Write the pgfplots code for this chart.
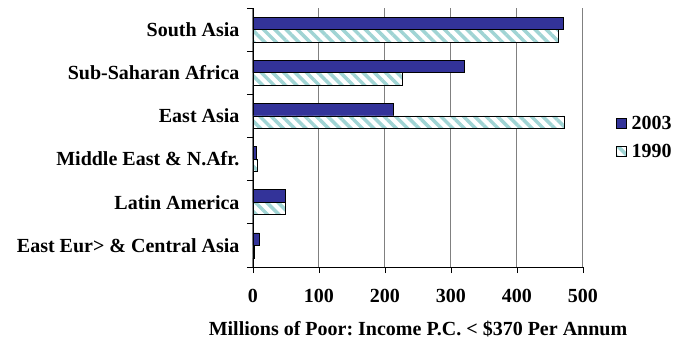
\documentclass[border=0pt]{standalone}
\usepackage{fontspec}
\setmainfont{Liberation Serif}
\usepackage{pgfplots}
\pgfplotsset{compat=1.18}
\usetikzlibrary{patterns.meta}
\definecolor{darkblue}{RGB}{51,51,153}
\definecolor{stripe}{RGB}{160,212,212}
\definecolor{gridgray}{RGB}{128,128,128}
\newcommand{\cf}{\fontsize{20}{23}\selectfont\bfseries}
\frenchspacing
\begin{document}
\begin{tikzpicture}[font=\cf]
\path[use as bounding box] (-253pt,-76pt) rectangle (432pt,267pt);
\begin{axis}[
  at={(0pt,0pt)}, anchor=south west,
  width=330pt, height=259pt, scale only axis,
  xmin=0, xmax=500, ymin=-0.5, ymax=5.5,
  axis x line*=bottom, axis y line*=left,
  axis line style={black, line width=0.8pt},
  xtick={0,100,...,500},
  ytick={0,...,5},
  yticklabels={East Eur> \& Central Asia, Latin America, Middle East \& N.Afr., East Asia, Sub-Saharan Africa, South Asia},
  minor ytick={-0.5,0.5,...,5.5},
  tick align=outside,
  major tick length=6pt, minor tick length=6pt,
  major y tick style={draw=none},
  tick style={black, line width=0.8pt},
  xmajorgrids, grid style={gridgray, line width=1pt},
  /pgf/number format/assume math mode=true,
  ticklabel style={font=\cf},
  xticklabel style={yshift=-13pt},
  yticklabel style={xshift=-4pt, align=right},
  xlabel={Millions of Poor: Income P.C. < \$370 Per Annum},
  xlabel style={font=\cf, at={(axis description cs:0.5,0)}, anchor=center, yshift=-62pt},
  legend style={font=\cf, at={(1.09,0.5)}, anchor=west, draw=none, fill=none, row sep=9pt,
    legend cell align=left},
  legend image code/.code={\draw[#1] (0pt,-5pt) rectangle (10pt,5pt);},
]
\addplot[xbar, bar width=12.5pt, bar shift=6.25pt, fill=darkblue, draw=black, line width=0.8pt]
  coordinates {(9,0) (49,1) (5,2) (212,3) (320,4) (471,5)};
\addlegendentry{\hspace{3pt}2003}
\addplot[xbar, bar width=12.5pt, bar shift=-6.25pt, fill=white, draw=black, line width=0.8pt,
  postaction={pattern color=stripe, pattern={Lines[angle=-45, distance=8pt, line width=3.5pt]}}]
  coordinates {(2,0) (49,1) (7,2) (472,3) (226,4) (462,5)};
\addlegendentry{\hspace{3pt}1990}
\end{axis}
\end{tikzpicture}
\end{document}
